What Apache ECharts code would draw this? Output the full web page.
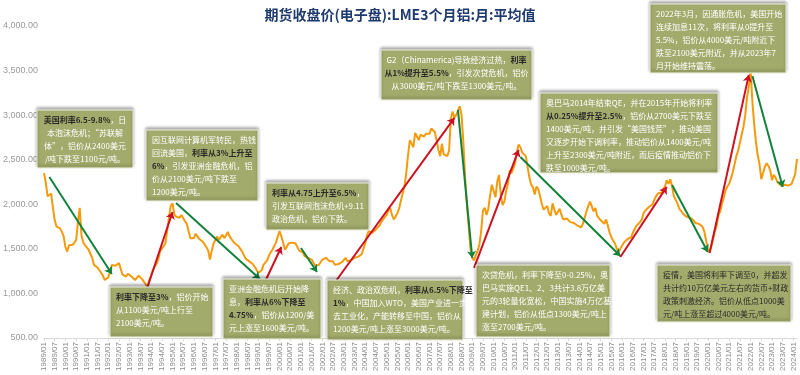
<!DOCTYPE html>
<html>
<head>
<meta charset="utf-8">
<script src="https://cdn.jsdelivr.net/npm/echarts@6/dist/echarts.min.js"></script>
<style>
  html, body { margin: 0; padding: 0; background: #fff; }
  #chart { width: 800px; height: 375px; }
</style>
</head>
<body>
<div id="chart"></div>
<script>
  // LME3个月铝 月均价（美元/吨），按年读取
  const y1989 = [2350, 2240, 2090, 2070, 2120, 1960, 1820, 1750, 1770, 1730, 1690, 1640]
  const y1990 = [1520, 1470, 1540, 1560, 1545, 1570, 1600, 1800, 1960, 1650, 1570, 1540]
  const y1991 = [1525, 1490, 1480, 1400, 1320, 1300, 1290, 1260, 1230, 1200, 1150, 1130]
  const y1992 = [1180, 1240, 1320, 1330, 1310, 1330, 1340, 1320, 1210, 1200, 1190, 1220]
  const y1993 = [1210, 1190, 1170, 1150, 1170, 1200, 1180, 1160, 1140, 1100, 1070, 1150]
  const y1994 = [1200, 1260, 1300, 1330, 1380, 1470, 1500, 1480, 1560, 1700, 1850, 1980]
  const y1995 = [2010, 1890, 1860, 1840, 1850, 1880, 1900, 1810, 1780, 1700, 1620, 1600]
  const y1996 = [1620, 1670, 1640, 1610, 1600, 1580, 1560, 1520, 1480, 1380, 1480, 1560]
  const y1997 = [1600, 1640, 1600, 1620, 1660, 1620, 1650, 1690, 1640, 1610, 1590, 1560]
  const y1998 = [1550, 1530, 1500, 1470, 1430, 1390, 1380, 1360, 1340, 1330, 1310, 1270]
  const y1999 = [1230, 1210, 1260, 1320, 1340, 1370, 1420, 1460, 1490, 1510, 1570, 1640]
  const y2000 = [1700, 1640, 1570, 1490, 1520, 1560, 1540, 1570, 1580, 1560, 1520, 1480]
  const y2001 = [1500, 1460, 1420, 1410, 1400, 1390, 1380, 1360, 1310, 1290, 1320, 1350]
  const y2002 = [1380, 1390, 1400, 1380, 1360, 1350, 1360, 1320, 1310, 1330, 1340, 1350]
  const y2003 = [1370, 1400, 1360, 1340, 1370, 1380, 1400, 1390, 1410, 1420, 1440, 1500]
  const y2004 = [1560, 1650, 1700, 1690, 1680, 1700, 1720, 1710, 1760, 1800, 1830, 1850]
  const y2005 = [1880, 1930, 1960, 1880, 1830, 1860, 1900, 1950, 2040, 2120, 2200, 2350]
  const y2006 = [2550, 2720, 2680, 2640, 2800, 2760, 2720, 2780, 2800, 2760, 2790, 2800]
  const y2007 = [2790, 2850, 2830, 2810, 2720, 2610, 2540, 2680, 2560, 2540, 2540, 2600]
  const y2008 = [2960, 3040, 2970, 3000, 3050, 3100, 3000, 2700, 2300, 2000, 1750, 1500]
  const y2009 = [1400, 1370, 1430, 1480, 1550, 1700, 1930, 1960, 1880, 1950, 2100, 2220]
  const y2010 = [2230, 2080, 2250, 2330, 2100, 1990, 2030, 2150, 2230, 2380, 2350, 2400]
  const y2011 = [2460, 2590, 2670, 2640, 2580, 2560, 2540, 2420, 2300, 2220, 2190, 2110]
  const y2012 = [2200, 2170, 2090, 2000, 1940, 1960, 1980, 1900, 1870, 2010, 1940, 1880]
  const y2013 = [1900, 1950, 1880, 1830, 1810, 1840, 1820, 1800, 1790, 1790, 1780, 1760]
  const y2014 = [1750, 1740, 1780, 1850, 1920, 1980, 2030, 2010, 1920, 1960, 1870, 1880]
  const y2015 = [1820, 1800, 1780, 1830, 1760, 1680, 1630, 1590, 1560, 1500, 1470, 1500]
  const y2016 = [1520, 1570, 1580, 1610, 1600, 1630, 1680, 1700, 1760, 1740, 1800, 1830]
  const y2017 = [1900, 1930, 1940, 1970, 1960, 2000, 2050, 2090, 2120, 2140, 2130, 2170]
  const y2018 = [2200, 2270, 2230, 2280, 2200, 2090, 2050, 2010, 1950, 1940, 1900, 1880]
  const y2019 = [1860, 1880, 1850, 1830, 1820, 1790, 1800, 1780, 1780, 1750, 1700, 1600]
  const y2020 = [1500, 1460, 1530, 1610, 1700, 1760, 1880, 1920, 2010, 2080, 2160, 2200]
  const y2021 = [2230, 2290, 2360, 2450, 2540, 2600, 2690, 2780, 2870, 3000, 3200, 3320]
  const y2022 = [3500, 3150, 2900, 2700, 2550, 2450, 2280, 2350, 2420, 2460, 2430, 2380]
  const y2023 = [2270, 2330, 2300, 2250, 2230, 2210, 2230, 2220, 2200, 2210, 2220, 2230]
  const y2024 = [2240, 2340, 2510]

  const yearRows = [y1989, y1990, y1991, y1992, y1993, y1994, y1995, y1996, y1997, y1998,
    y1999, y2000, y2001, y2002, y2003, y2004, y2005, y2006, y2007, y2008, y2009, y2010,
    y2011, y2012, y2013, y2014, y2015, y2016, y2017, y2018, y2019, y2020, y2021, y2022,
    y2023, y2024]

  // 月份类目 1989/01 ...
  const months = []
  const prices = []
  yearRows.forEach((row, i) => {
    row.forEach((v, m) => {
      months.push((1989 + i) + '/' + String(m + 1).padStart(2, '0'))
      prices.push(v)
    })
  })

  const yTicks = [500, 4000, 500] // min, max, interval

  // 箭头：[起点月份, 起点价格, 终点月份, 终点价格, 方向]
  const arrows = [
    ['1989/04', 2307, '1992/03', 1218, 'down'],
    ['1993/11', 1072, '1995/01', 1914, 'up'],
    ['1995/03', 2015, '1999/02', 1162, 'down'],
    ['1999/04', 1095, '2000/02', 1521, 'up'],
    ['2001/01', 1510, '2001/10', 1241, 'down'],
    ['2002/09', 1151, '2008/03', 2969, 'up'],
    ['2008/05', 3059, '2009/01', 1398, 'down'],
    ['2009/02', 1286, '2011/03', 2610, 'up'],
    ['2011/04', 2531, '2015/12', 1420, 'down'],
    ['2015/12', 1409, '2018/02', 2195, 'up'],
    ['2018/05', 2217, '2020/01', 1465, 'down'],
    ['2020/02', 1454, '2021/12', 3452, 'up'],
    ['2022/02', 3440, '2023/07', 2195, 'down'],
  ]

  // 注释文字（b: 深色加粗, w: 白色, d: 深色）
  const notes = [
    '{b|美国利率6.5-9.8%}{w|，日\n本泡沫危机；“苏联解\n体”，铝价从2400美元\n/吨下跌至1100元/吨。}',
    '{w|因互联网计算机军转民，热钱\n回流美国，}{b|利率从3%上升至\n6%}{w|，引发亚洲金融危机，铝\n价从2100美元/吨下跌至\n1200美元/吨。}',
    '{b|利率从4.75上升至6.5%}{w|，\n引发互联网泡沫危机+9.11\n政治危机，铝价下跌。}',
    '{w|G2（Chinamerica)导致经济过热，}{b|利率\n从1%提升至5.5%}{w|，引发次贷危机，铝价\n从3000美元/吨下跌至1300美元/吨。}',
    '{w|2022年3月，因通胀危机，美国开始\n连续加息11次，将利率从0提升至\n5.5%，铝价从4000美元/吨附近下\n跌至2100美元附近，并从2023年7\n月开始维持震荡。}',
    '{w|奥巴马2014年结束QE，并在2015年开始将利率\n}{b|从0.25%提升至2.5%}{w|，铝价从2700美元下跌至\n1400美元/吨，并引发“美国钱荒”，推动美国\n又逐步开始下调利率，推动铝价从1400美元/吨\n上升至2300美元/吨附近，而后疫情推动铝价下\n跌至1000美元/吨。}',
    '{b|利率下降至3%}{w|，铝价开始\n从1100美元/吨上行至\n2100美元/吨。}',
    '{w|亚洲金融危机后开始降\n息，}{b|利率从6%下降至\n4.75%}{w|，铝价从1200/美\n元上涨至1600美元/吨。}',
    '{w|经济、政治双危机，}{b|利率从6.5%下降至\n1%}{w|，中国加入WTO，美国产业进一步\n去工业化，产能转移至中国，铝价从\n1200美元/吨上涨至3000美元/吨。}',
    '{w|次贷危机，利率下降至0-0.25%，奥\n巴马实施QE1、2、3共计3.8万亿美\n元的3轮量化宽松，中国实施4万亿基\n建计划，铝价从低点1300美元/吨上\n涨至2700美元/吨。}',
    '{d|疫情，美国将利率下调至0，并超发\n共计约10万亿美元左右的货币+财政\n政策刺激经济。铝价从低点1000美\n元/吨上涨至超过4000美元/吨。}',
  ]

  // 注释框布局 [x, y, 宽, 高, 对齐]
  const boxLayout = [
    [37, 110, 96, 58, 'center'],
    [146, 130, 112, 71, 'left'],
    [266, 183, 103, 47, 'left'],
    [381, 50, 151, 50, 'center'],
    [650, 4, 136, 69, 'left'],
    [540, 93, 178, 80, 'left'],
    [110, 287, 103, 50, 'left'],
    [223, 279, 98, 60, 'left'],
    [327, 280, 136, 60, 'left'],
    [476, 265, 134, 72, 'left'],
    [657, 265, 134, 57, 'left'],
  ]

  const FONT = '"Noto Sans CJK SC", "Noto Sans", sans-serif'
  const richBase = { fontSize: 8, fontFamily: FONT, lineHeight: 13 }
  const rich = {
    w: Object.assign({ fill: '#ffffff' }, richBase),
    b: Object.assign({ fill: '#2a2a2a', fontWeight: 'bold' }, richBase),
    d: Object.assign({ fill: '#2a2a2a' }, richBase),
  }

  const graphics = []
  boxLayout.forEach((b, i) => {
    const [x, y, w, h, align] = b
    graphics.push({
      type: 'rect',
      z: 100,
      shape: { x: x, y: y, width: w, height: h },
      style: {
        fill: '#a2ab6b',
        stroke: '#eef0e0',
        lineWidth: 1,
        shadowBlur: 3,
        shadowOffsetY: -2,
        shadowColor: 'rgba(0,0,0,0.35)',
      },
    })
    graphics.push({
      type: 'text',
      z: 101,
      x: align === 'center' ? x + w / 2 : x + 6,
      y: y + 3,
      style: {
        text: notes[i],
        rich: rich,
        align: align,
        verticalAlign: 'top',
        fontSize: 8,
        fontFamily: FONT,
        lineHeight: 13,
        fill: '#fff',
      },
    })
  })

  const arrowLines = arrows.map((a) => [
    {
      coord: [a[0], a[1]],
      lineStyle: { color: a[4] === 'up' ? '#cc1122' : '#12823a', width: 2, type: 'solid' },
    },
    { coord: [a[2], a[3]] },
  ])

  const option = {
    animation: false,
    title: {
      text: '期货收盘价(电子盘):LME3个月铝:月:平均值',
      left: 'center',
      top: 3,
      textStyle: { fontSize: 14, fontWeight: 'bold', color: '#1f3a6e', fontFamily: FONT },
    },
    grid: { left: 40, right: 3, top: 26, bottom: 37 },
    xAxis: {
      type: 'category',
      data: months,
      boundaryGap: false,
      axisLine: { lineStyle: { color: '#d9d9d9' } },
      axisTick: { interval: 5, length: 3, lineStyle: { color: '#d9d9d9' } },
      axisLabel: {
        interval: 5,
        rotate: 90,
        fontSize: 8,
        color: '#8c8c8c',
        margin: 4,
        fontFamily: 'Liberation Sans, sans-serif',
      },
      splitLine: { show: false },
    },
    yAxis: {
      type: 'value',
      min: yTicks[0],
      max: yTicks[1],
      interval: yTicks[2],
      axisLine: { show: false },
      axisTick: { show: false },
      splitLine: { show: false },
      axisLabel: {
        fontSize: 9,
        color: '#999999',
        margin: 6,
        fontFamily: 'Liberation Sans, sans-serif',
        formatter: (v) => v.toLocaleString('en-US', { minimumFractionDigits: 2, maximumFractionDigits: 2 }),
      },
    },
    series: [
      {
        type: 'line',
        data: prices,
        symbol: 'none',
        lineStyle: { color: '#f59a0c', width: 2 },
        itemStyle: { color: '#f59a0c' },
        markLine: {
          silent: true,
          symbol: ['none', 'arrow'],
          symbolSize: 7,
          label: { show: false },
          emphasis: { disabled: true },
          data: arrowLines,
        },
      },
    ],
    graphic: graphics,
  }

  const myChart = echarts.init(document.getElementById('chart'))
  myChart.setOption(option)
</script>
</body>
</html>
